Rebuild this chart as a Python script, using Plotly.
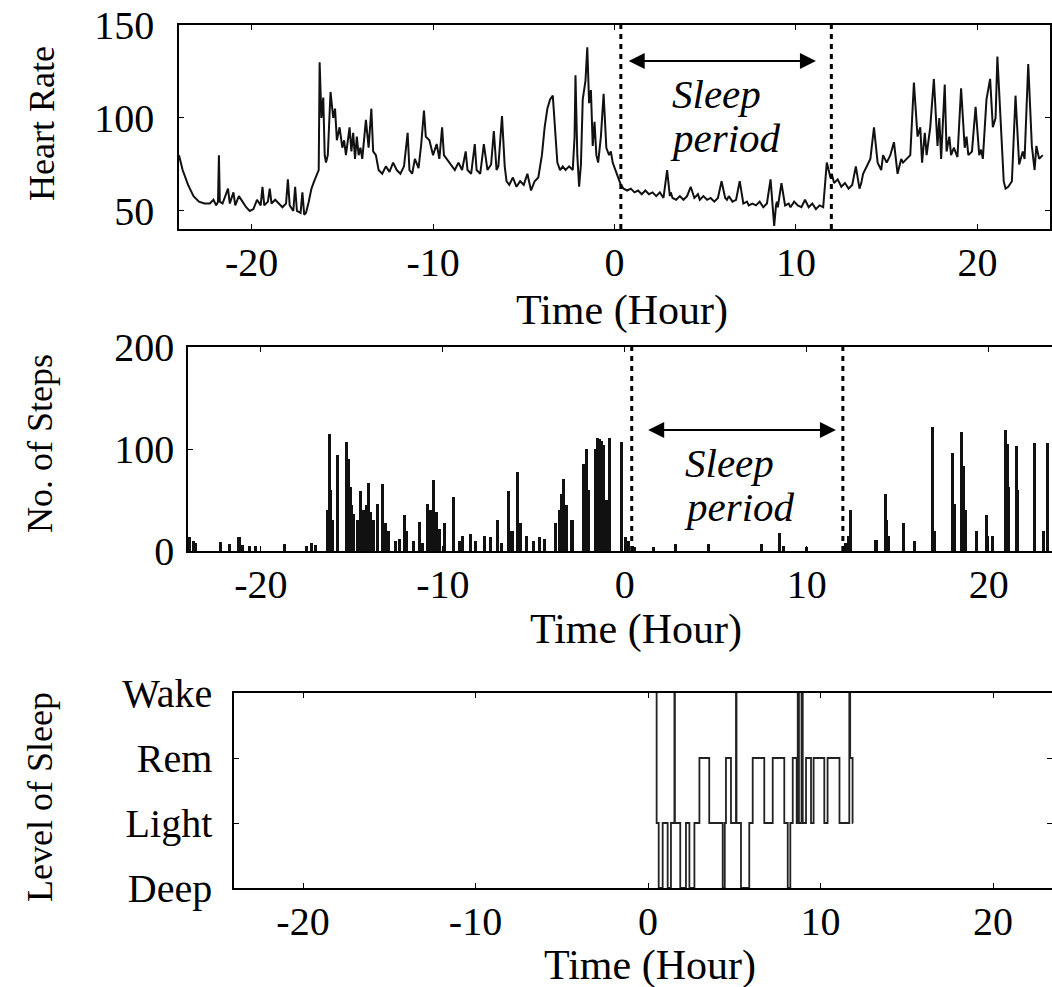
import plotly.graph_objects as go

# ---------------- data ----------------
hr_time = [
    -24.0, -23.8, -23.5, -23.2, -22.9, -22.6, -22.3, -22.1, -21.95, -21.85, -21.8, -21.75, -21.6, -21.3, -21.2,
    -21.0, -20.9, -20.7, -20.5, -20.3, -20.1, -19.9, -19.7, -19.5, -19.4, -19.3, -19.1, -19.0, -18.9, -18.7,
    -18.5, -18.3, -18.1, -18.0, -17.9, -17.7, -17.6, -17.5, -17.3, -17.2, -17.1, -17.0, -16.85, -16.7, -16.55,
    -16.4, -16.3, -16.25, -16.15, -16.05, -15.97, -15.9, -15.8, -15.65, -15.5, -15.4, -15.3, -15.15, -15.0, -14.9,
    -14.8, -14.6, -14.5, -14.4, -14.3, -14.2, -14.1, -14.0, -13.9, -13.7, -13.55, -13.4, -13.3, -13.15, -13.0,
    -12.8, -12.6, -12.4, -12.2, -12.0, -11.8, -11.6, -11.4, -11.3, -11.15, -11.0, -10.8, -10.65, -10.5, -10.4,
    -10.2, -10.0, -9.8, -9.65, -9.5, -9.4, -9.25, -9.0, -8.8, -8.6, -8.4, -8.2, -8.1, -7.9, -7.7,
    -7.6, -7.4, -7.2, -7.0, -6.8, -6.65, -6.5, -6.4, -6.2, -6.05, -5.95, -5.8, -5.6, -5.4, -5.2,
    -5.0, -4.8, -4.6, -4.4, -4.2, -4.0, -3.85, -3.7, -3.55, -3.4, -3.3, -3.15, -3.0, -2.85, -2.7,
    -2.5, -2.3, -2.2, -2.15, -2.05, -1.95, -1.85, -1.75, -1.6, -1.5, -1.4, -1.3, -1.2, -1.1, -1.0,
    -0.9, -0.75, -0.6, -0.45, -0.3, -0.2, -0.1, 0.05, 0.2, 0.35, 0.5, 0.7, 0.9, 1.1, 1.3,
    1.5, 1.7, 1.9, 2.1, 2.3, 2.5, 2.7, 2.9, 3.05, 3.1, 3.2, 3.4, 3.6, 3.8, 4.0,
    4.2, 4.4, 4.6, 4.7, 4.9, 5.1, 5.3, 5.5, 5.7, 5.9, 6.1, 6.2, 6.3, 6.5, 6.7,
    6.9, 7.1, 7.3, 7.4, 7.6, 7.8, 8.0, 8.2, 8.4, 8.6, 8.8, 8.9, 8.95, 9.0, 9.2,
    9.4, 9.6, 9.7, 9.9, 10.1, 10.3, 10.5, 10.7, 10.9, 11.1, 11.3, 11.5, 11.7, 11.9, 11.97,
    12.1, 12.3, 12.5, 12.7, 12.9, 13.1, 13.3, 13.5, 13.6, 13.7, 13.9, 14.1, 14.3, 14.5, 14.7,
    14.8, 15.0, 15.2, 15.4, 15.6, 15.8, 15.9, 16.1, 16.3, 16.5, 16.7, 16.85, 16.95, 17.1, 17.2,
    17.4, 17.6, 17.8, 17.9, 18.0, 18.2, 18.3, 18.45, 18.55, 18.7, 18.9, 19.1, 19.3, 19.4, 19.5,
    19.7, 19.9, 20.1, 20.2, 20.3, 20.5, 20.7, 20.85, 21.0, 21.1, 21.3, 21.45, 21.55, 21.7, 21.9,
    22.1, 22.3, 22.5, 22.6, 22.8, 23.0, 23.15, 23.25, 23.4, 23.6, 23.8, 24.0,
]
hr_value = [
    80, 72, 64, 58, 55, 54, 54, 56, 53, 55, 80, 55, 54, 62, 54,
    60, 53, 58, 55, 52, 50, 51, 56, 53, 63, 53, 55, 62, 54, 56,
    54, 52, 54, 67, 53, 50, 63, 50, 49, 60, 48, 49, 55, 62, 66,
    70, 72, 130, 100, 111, 80, 76, 80, 114, 100, 105, 88, 95, 84, 88,
    80, 95, 82, 92, 78, 90, 80, 84, 78, 99, 84, 105, 82, 80, 72,
    70, 74, 71, 76, 72, 70, 74, 92, 72, 70, 78, 73, 86, 104, 90,
    88, 80, 86, 78, 95, 80, 78, 74, 72, 76, 72, 82, 72, 70, 86,
    72, 70, 86, 72, 75, 93, 72, 74, 101, 74, 66, 64, 68, 63, 66,
    64, 70, 61, 66, 68, 80, 95, 105, 110, 112, 95, 76, 72, 74, 72,
    74, 72, 90, 123, 80, 63, 75, 110, 120, 138, 108, 115, 85, 98, 80,
    76, 90, 113, 84, 80, 82, 76, 72, 68, 64, 62, 61, 62, 60, 61,
    59, 61, 59, 60, 58, 60, 57, 72, 58, 60, 57, 56, 58, 56, 58,
    63, 57, 59, 56, 58, 56, 57, 55, 57, 66, 57, 56, 58, 55, 56,
    66, 54, 55, 53, 54, 53, 55, 52, 54, 67, 42, 53, 55, 52, 65,
    53, 54, 52, 55, 53, 52, 56, 52, 54, 51, 53, 52, 76, 68, 70,
    65, 67, 63, 65, 62, 64, 74, 62, 65, 70, 74, 78, 95, 76, 72,
    80, 76, 80, 87, 70, 78, 76, 78, 80, 119, 90, 95, 76, 92, 80,
    95, 121, 85, 100, 78, 118, 82, 90, 80, 84, 79, 116, 84, 90, 80,
    82, 106, 80, 83, 78, 110, 121, 95, 100, 133, 90, 66, 62, 63, 66,
    112, 75, 82, 78, 129, 85, 72, 85, 78, 80,
]

step_time = [
    -23.9, -23.7, -23.6, -22.2, -21.7, -21.2, -21.0, -20.6, -20.3, -18.7, -17.5, -17.2, -17.0,
    -16.35, -16.25, -16.15, -16.05, -15.8, -15.3, -15.2, -15.1, -15.0, -14.9, -14.7, -14.5,
    -14.35, -14.2, -14.1, -13.95, -13.8, -13.6, -13.3, -13.15, -13.0, -12.6, -12.4, -12.1,
    -12.0, -11.6, -11.3, -11.1, -10.85, -10.7, -10.5, -10.35, -10.2, -9.9, -9.4, -9.1, -8.9,
    -8.5, -8.2, -7.7, -7.4, -7.0, -6.8, -6.4, -6.2, -5.9, -5.75, -5.4, -5.0, -4.7, -4.4,
    -3.8, -3.6, -3.5, -3.35, -3.2, -2.9, -2.25, -2.1, -2.0, -1.6, -1.5, -1.4, -1.3, -1.15,
    -1.0, -0.85, -0.16, 0.05, 0.2, 0.4, 0.55, 1.6, 2.8, 4.6, 7.5, 8.5, 8.7, 10.0, 12.1,
    12.3, 12.4, 13.8, 14.3, 14.4, 14.5, 15.3, 15.9, 16.9, 17.0, 18.0, 18.1, 18.5, 18.6,
    18.7, 19.3, 19.85, 19.9, 20.2, 20.9, 21.0, 21.05, 21.5, 21.55, 22.5, 23.0, 23.2,
]
step_count = [
    14, 10, 8, 9, 7, 14, 6, 5, 5, 7, 5, 8, 6,
    40, 115, 60, 30, 94, 107, 90, 63, 45, 36, 30, 59,
    40, 45, 67, 38, 30, 46, 66, 27, 20, 10, 12, 35,
    20, 10, 28, 8, 46, 40, 70, 38, 22, 27, 53, 10, 15,
    17, 10, 15, 14, 30, 8, 59, 20, 77, 27, 15, 10, 14, 12,
    27, 40, 56, 71, 45, 30, 85, 100, 60, 100, 111, 110, 108, 104,
    50, 111, 107, 14, 10, 5, 4, 4, 7, 7, 7, 18, 5, 4, 8,
    15, 40, 11, 56, 30, 15, 27, 10, 122, 20, 96, 46, 117, 83,
    40, 20, 35, 15, 15, 119, 105, 63, 103, 60, 106, 20, 106,
]

# sleep stages: 0 = Deep, 1 = Light, 2 = Rem, 3 = Wake
sleep_time = [
    0.46, 0.50, 0.62, 0.85, 1.14, 1.33, 1.53, 1.56, 1.87, 2.20, 2.40, 2.69, 2.98, 3.55,
    4.33, 4.45, 4.52, 4.81, 5.10, 5.13, 5.39, 5.87, 6.07, 6.74, 7.23, 7.90, 8.10, 8.25,
    8.39, 8.62, 8.68, 8.75, 8.90, 8.97, 9.16, 9.45, 9.60, 10.22, 10.41, 11.10, 11.67,
    11.72, 11.86, 11.88,
]
sleep_level = [
    3, 1, 0, 1, 0, 1, 3, 1, 0, 1, 0, 1, 2, 1,
    0, 1, 2, 1, 3, 1, 0, 1, 2, 1, 2, 1, 0, 1,
    2, 1, 3, 1, 3, 1, 2, 1, 2, 1, 2, 1, 3,
    2, 1, 1,
]
sleep_labels = ["Deep", "Light", "Rem", "Wake"]

x_ticks = [-20, -10, 0, 10, 20]
x_ticktext = ["-20", "-10", "0", "10", "20"]
sleep_start_end = [0.35, 11.95]

# ---------------- figure ----------------
W, H = 1052, 987
FONT = "Liberation Serif"
TICKF = dict(family=FONT, size=40, color="black")


def px_x(p):
    return p / W


def px_y(p):
    return 1 - p / H


fig = go.Figure()

fig.add_trace(go.Scatter(x=hr_time, y=hr_value, mode="lines",
                         line=dict(color="#111111", width=2),
                         xaxis="x", yaxis="y", showlegend=False))

fig.add_trace(go.Bar(x=step_time, y=step_count, width=0.17,
                     marker=dict(color="#111111", line=dict(width=0)),
                     xaxis="x2", yaxis="y2", showlegend=False))

fig.add_trace(go.Scatter(x=sleep_time, y=sleep_level, mode="lines",
                         line=dict(color="#222222", width=1.8, shape="hv"),
                         xaxis="x3", yaxis="y3", showlegend=False))

common_x = dict(showgrid=False, zeroline=False, showline=True, linecolor="black",
                linewidth=1.5, ticks="inside", ticklen=5, tickcolor="black",
                mirror="ticks", tickvals=x_ticks, ticktext=x_ticktext,
                tickfont=TICKF, ticklabelstandoff=-3, automargin=False)
common_y = dict(showgrid=False, zeroline=False, showline=True, linecolor="black",
                linewidth=1.5, ticks="inside", ticklen=5, tickcolor="black",
                tickfont=TICKF, automargin=False)

fig.update_layout(
    width=W, height=H,
    margin=dict(l=0, r=0, t=0, b=0, autoexpand=False),
    paper_bgcolor="white", plot_bgcolor="white",
    barmode="overlay", bargap=0,
    xaxis=dict(domain=[px_x(179), px_x(1050)], range=[-24, 24], anchor="y", **common_x),
    yaxis=dict(domain=[px_y(229), px_y(25)], range=[40.3, 150], tickvals=[50, 100, 150],
               anchor="x", mirror="ticks", ticklabelstandoff=15, **common_y),
    xaxis2=dict(domain=[px_x(188), 1.0], range=[-24, 23.47], anchor="y2", **common_x),
    yaxis2=dict(domain=[px_y(551), px_y(347)], range=[0, 200], tickvals=[0, 100, 200],
                anchor="x2", mirror=False, ticklabelstandoff=4, **common_y),
    xaxis3=dict(domain=[px_x(234), 1.0], range=[-24, 23.42], anchor="y3", **common_x),
    yaxis3=dict(domain=[px_y(888), px_y(693)], range=[0, 3], tickvals=[0, 1, 2, 3],
                ticktext=sleep_labels, anchor="x3", mirror="ticks", ticklabelstandoff=12,
                **common_y),
)

# dotted sleep boundaries
for xr, yr in (("x", "y domain"), ("x2", "y2 domain")):
    for t in sleep_start_end:
        tt = t if xr == "x" else t + 0.03
        fig.add_shape(type="line", xref=xr, yref=yr, x0=tt, x1=tt, y0=0, y1=1,
                      line=dict(color="black", width=3, dash="5px,5px"))

# double arrows
fig.add_annotation(x=11.1, y=130.6, ax=0.7, ay=130.6, xref="x", yref="y", axref="x", ayref="y",
                   text="", showarrow=True, arrowhead=2, arrowside="end+start",
                   arrowsize=1.6, arrowwidth=2, arrowcolor="black", standoff=0, startstandoff=0)
fig.add_annotation(x=11.6, y=118.6, ax=1.2, ay=118.6, xref="x2", yref="y2", axref="x2", ayref="y2",
                   text="", showarrow=True, arrowhead=2, arrowside="end+start",
                   arrowsize=1.6, arrowwidth=2, arrowcolor="black", standoff=0, startstandoff=0)

SLEEPF = dict(family=FONT, size=41, color="black")
fig.add_annotation(x=5.6, y=112.9, xref="x", yref="y", text="<i>Sleep</i>", showarrow=False, font=SLEEPF)
fig.add_annotation(x=6.1, y=89.2, xref="x", yref="y", text="<i>period</i>", showarrow=False, font=SLEEPF)
fig.add_annotation(x=5.77, y=86.3, xref="x2", yref="y2", text="<i>Sleep</i>", showarrow=False, font=SLEEPF)
fig.add_annotation(x=6.3, y=43.1, xref="x2", yref="y2", text="<i>period</i>", showarrow=False, font=SLEEPF)

# axis titles
XTF = dict(family=FONT, size=42, color="black")
for cx, cy in ((622, 310), (636, 629), (650, 965)):
    fig.add_annotation(x=px_x(cx), y=px_y(cy), xref="paper", yref="paper", text="Time (Hour)",
                       showarrow=False, font=XTF, xanchor="center", yanchor="middle")

YTF = dict(family=FONT, size=36, color="black")
for txt, cx, cy in (("Heart Rate", 42, 124), ("No. of Steps", 40, 444), ("Level of Sleep", 40, 797)):
    fig.add_annotation(x=px_x(cx), y=px_y(cy), xref="paper", yref="paper", text=txt,
                       textangle=-90, showarrow=False, font=YTF, xanchor="center", yanchor="middle")

fig.write_html("out.html", config={"displayModeBar": False},
               post_script="document.body.style.margin='0px';")
